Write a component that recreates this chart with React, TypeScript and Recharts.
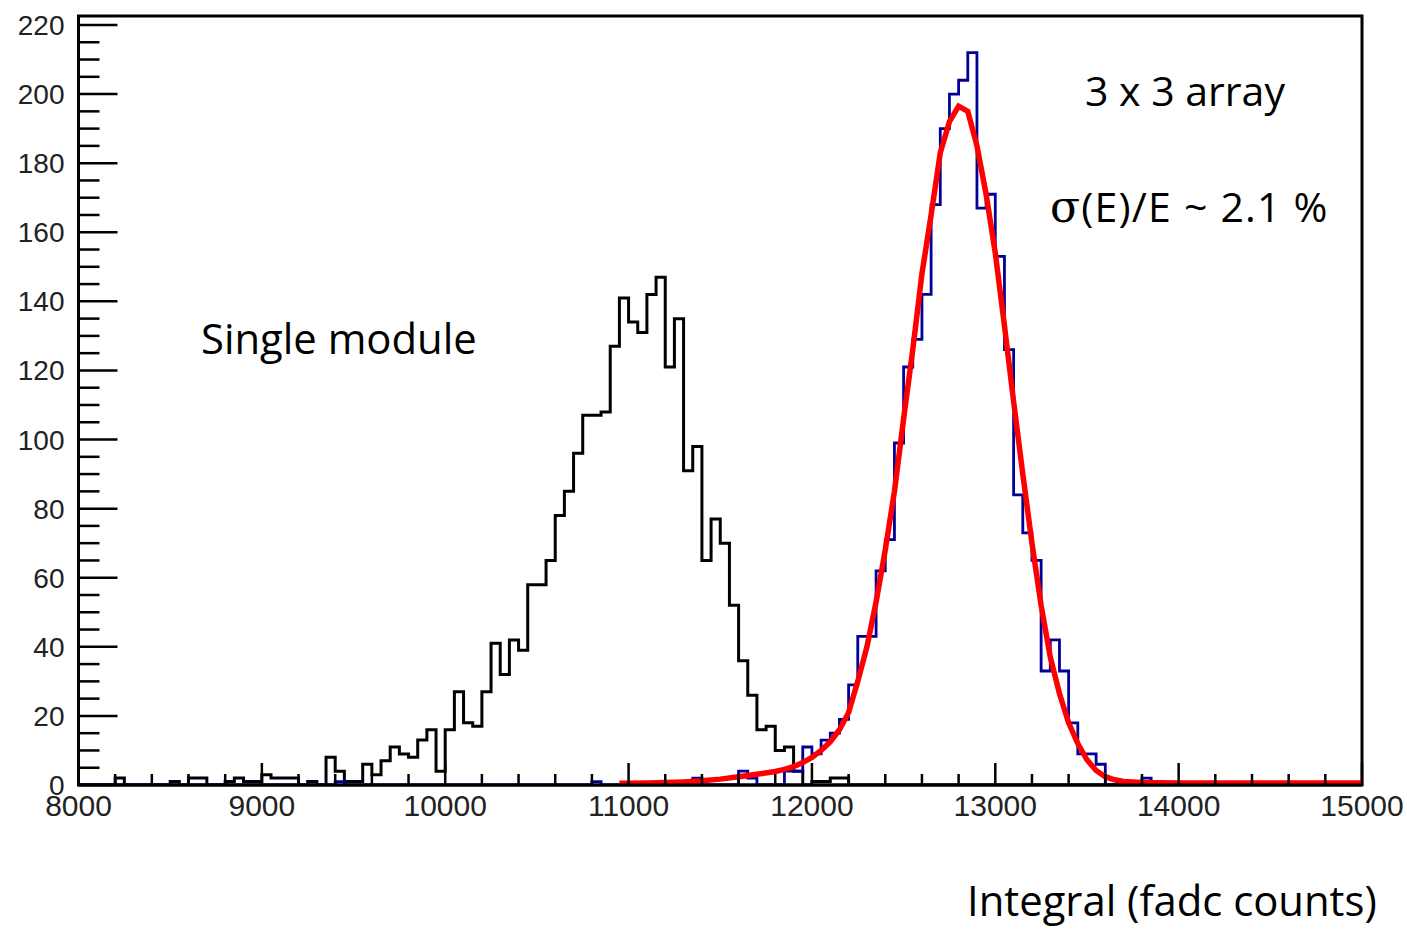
import { Line, LineChart, ReferenceArea, XAxis, YAxis } from "recharts";

const BIN_LOW = 8000;
const BIN_WIDTH = 50;
const X_MAX = 15000;
const Y_MAX = 222.6;

// counts per 50-wide bin, 8000 .. 14950 (one row = 1000)
const singleModule = [
  0, 0, 0, 0, 2, 0, 0, 0, 0, 0, 1, 0, 2, 2, 0, 0, 1, 2, 1, 1,
  3, 2, 2, 2, 0, 1, 0, 8, 4, 1, 1, 6, 3, 7, 11, 9, 8, 13, 16, 4,
  16, 27, 18, 17, 27, 41, 32, 42, 39, 58, 58, 65, 78, 85, 96, 107, 107, 108, 127, 141,
  134, 131, 142, 147, 121, 135, 91, 98, 65, 77, 70, 52, 36, 26, 16, 17, 10, 11, 4, 0,
  1, 1, 2, 2, 0, 0, 0, 0, 0, 0, 0, 0, 0, 0, 0, 0, 0, 0, 0, 0,
  0, 0, 0, 0, 0, 0, 0, 0, 0, 0, 0, 0, 0, 0, 0, 0, 0, 0, 0, 0,
  0, 0, 0, 0, 0, 0, 0, 0, 0, 0, 0, 0, 0, 0, 0, 0, 0, 0, 0, 0,
];

const array3x3 = [
  0, 0, 0, 0, 0, 0, 0, 0, 0, 0, 0, 0, 0, 0, 0, 0, 0, 0, 0, 0,
  0, 0, 0, 0, 0, 0, 0, 0, 1, 0, 0, 0, 0, 0, 0, 0, 0, 0, 0, 0,
  0, 0, 0, 0, 0, 0, 0, 0, 0, 0, 0, 0, 0, 0, 0, 0, 1, 0, 0, 0,
  0, 0, 0, 0, 0, 0, 0, 2, 0, 0, 0, 0, 4, 2, 0, 0, 0, 4, 4, 11,
  9, 13, 15, 19, 29, 43, 43, 62, 71, 99, 121, 129, 142, 168, 190, 200, 204, 212, 167, 171,
  153, 126, 84, 73, 65, 33, 42, 33, 18, 9, 9, 6, 0, 0, 0, 0, 2, 0, 0, 0,
  0, 0, 0, 0, 0, 0, 0, 0, 0, 0, 0, 0, 0, 0, 0, 0, 0, 0, 0, 0,
];

// fitted curve
const fitX = [
  10950, 11000, 11100, 11200, 11300, 11400, 11500, 11600, 11700, 11800,
  11850, 11900, 11950, 12000, 12050, 12100, 12150, 12200, 12250, 12300,
  12350, 12400, 12450, 12500, 12550, 12600, 12650, 12700, 12750, 12800,
  12850, 12900, 12950, 13000, 13050, 13100, 13150, 13200, 13250, 13300,
  13350, 13400, 13450, 13500, 13550, 13600, 13650, 13700, 13800, 14000, 15000,
];
const fitY = [
  0.5, 0.5, 0.6, 0.7, 0.9, 1.2, 1.7, 2.4, 3.1, 3.9,
  4.5, 5.3, 6.5, 8, 10, 12.5, 16, 21, 30, 40,
  53, 68, 85, 106, 126, 148, 165, 183, 192, 196.5,
  195, 185, 171, 154, 133, 111, 90, 70, 52, 37,
  26.5, 18, 12, 7.3, 4.2, 2.4, 1.5, 1.0, 0.7, 0.6, 0.6,
];

const xMajor = [8000, 9000, 10000, 11000, 12000, 13000, 14000, 15000];
const yMajor = [0, 20, 40, 60, 80, 100, 120, 140, 160, 180, 200, 220];
const xMinorStep = 200;
const yMinorStep = 5;

const subdivide = (major: number[], step: number) => {
  const out: number[] = [];
  for (let i = 0; i < major.length - 1; i++) {
    for (let v = major[i]; v < major[i + 1]; v += step) out.push(v);
  }
  out.push(major[major.length - 1]);
  return out;
};

const toSteps = (counts: number[]) => [
  ...counts.map((c, i) => ({ x: BIN_LOW + i * BIN_WIDTH, y: c })),
  { x: BIN_LOW + counts.length * BIN_WIDTH, y: counts[counts.length - 1] },
];

const blackData = toSteps(singleModule);
const blueData = toSteps(array3x3);
const fitData = fitX.map((x, i) => ({ x, y: fitY[i] }));

const tickFont = "'Liberation Sans', Arial, sans-serif";
const textFont = "'Open Sans', sans-serif";

const XTick = ({ x, y, payload }: any) => {
  const major = xMajor.includes(payload.value);
  return (
    <g>
      <line x1={x} x2={x} y1={y} y2={y - (major ? 22 : 11)} stroke="#000" strokeWidth={2.5} />
      {major && (
        <text x={x} y={y + 31} textAnchor="middle" fontSize={30} fontFamily={tickFont} fill="#222">
          {payload.value}
        </text>
      )}
    </g>
  );
};

const YTick = ({ x, y, payload }: any) => {
  const major = yMajor.includes(payload.value);
  return (
    <g>
      <line x1={x} x2={x + (major ? 39 : 21)} y1={y} y2={y} stroke="#000" strokeWidth={2.5} />
      {major && (
        <text x={x - 14} y={y + 10} textAnchor="end" fontSize={28} fontFamily={tickFont} fill="#222">
          {payload.value}
        </text>
      )}
    </g>
  );
};

const App = () => {
  return (
    <div style={{ position: "absolute", left: 0, top: 0, width: 1407, height: 930, background: "#fff" }}>
      <LineChart width={1407} height={930} margin={{ top: 16, right: 45, bottom: 0, left: 0 }}>
        <XAxis
          dataKey="x"
          type="number"
          domain={[BIN_LOW, X_MAX]}
          ticks={subdivide(xMajor, xMinorStep)}
          interval={0}
          tickSize={0}
          tickMargin={0}
          tickLine={false}
          tick={<XTick />}
          height={145}
          axisLine={{ stroke: "#000", strokeWidth: 3 }}
          allowDataOverflow
        />
        <YAxis
          type="number"
          domain={[0, Y_MAX]}
          ticks={subdivide(yMajor, yMinorStep)}
          interval={0}
          tickSize={0}
          tickMargin={0}
          tickLine={false}
          tick={<YTick />}
          width={78.5}
          axisLine={{ stroke: "#000", strokeWidth: 3 }}
          allowDataOverflow
        />
        <ReferenceArea
          x1={BIN_LOW}
          x2={X_MAX}
          y1={0}
          y2={Y_MAX}
          fill="none"
          fillOpacity={0}
          stroke="#000"
          strokeWidth={3}
          ifOverflow="visible"
        />
        <Line
          data={blackData}
          dataKey="y"
          type="stepAfter"
          stroke="#000"
          strokeWidth={3}
          dot={false}
          activeDot={false}
          isAnimationActive={false}
        />
        <Line
          data={blueData}
          dataKey="y"
          type="stepAfter"
          stroke="#000099"
          strokeWidth={2.8}
          dot={false}
          activeDot={false}
          isAnimationActive={false}
        />
        <Line
          data={fitData}
          dataKey="y"
          type="linear"
          stroke="#ff0000"
          strokeWidth={5.5}
          dot={false}
          activeDot={false}
          isAnimationActive={false}
        />
      </LineChart>
      <svg width={1407} height={930} style={{ position: "absolute", left: 0, top: 0, pointerEvents: "none" }}>
        <text x={201} y={354} fontSize={41.8} fontFamily={textFont} fill="#000">
          Single module
        </text>
        <text x={1085} y={106} fontSize={41} fontFamily={textFont} fill="#000">
          3 x 3 array
        </text>
        <text x={1050} y={222} fontSize={41} fontFamily={textFont} fill="#000" letterSpacing={1.2}>
          <tspan fontFamily="'DejaVu Serif', serif" fontSize={44}>σ</tspan>(E)/E ~ 2.1 %
        </text>
        <text x={967} y={916} fontSize={41.8} fontFamily={textFont} fill="#000">
          Integral (fadc counts)
        </text>
      </svg>
    </div>
  );
};

export default App;
